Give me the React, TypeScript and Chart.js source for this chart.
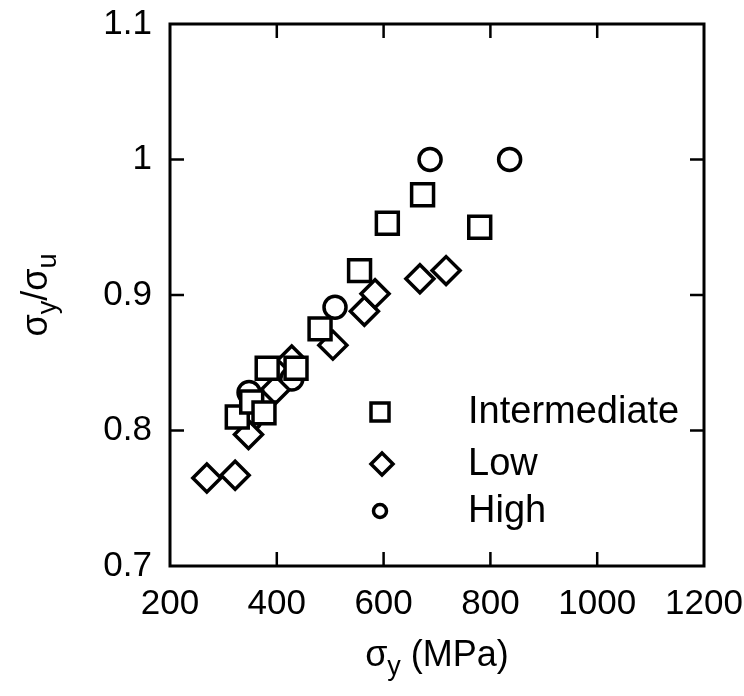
import React, { useEffect, useRef } from 'react';
import { Chart, registerables } from 'chart.js';

Chart.register(...registerables);

// Axis ticks
const X_TICKS = [200, 400, 600, 800, 1000, 1200];
const Y_TICKS = [0.7, 0.8, 0.9, 1.0, 1.1];
const Y_TICK_LABELS = ['0.7', '0.8', '0.9', '1', '1.1'];

// Series: yield strength (MPa) vs. yield/ultimate ratio
const SERIES_NAMES = ['Intermediate', 'Low', 'High'];
const INTERMEDIATE_X = [326, 353, 376, 382, 436, 481, 555, 607, 673, 780];
const INTERMEDIATE_Y = [0.81, 0.821, 0.813, 0.846, 0.846, 0.875, 0.918, 0.953, 0.974, 0.95];
const LOW_X = [269, 322, 347, 397, 428, 505, 564, 584, 668, 717];
const LOW_Y = [0.765, 0.767, 0.797, 0.83, 0.852, 0.863, 0.888, 0.901, 0.912, 0.918];
const HIGH_X = [348, 350, 428, 509, 687, 836];
const HIGH_Y = [0.828, 0.808, 0.838, 0.891, 1.0, 1.0];

const FONT = '"Liberation Sans", Arial, Helvetica, sans-serif';
const INK = '#000';

const toPoints = (xs: number[], ys: number[]) => xs.map((x, i) => ({ x, y: ys[i] }));

// Draws text with subscript parts: segments of [text, isSub]
function drawComposite(
  ctx: CanvasRenderingContext2D,
  parts: [string, boolean][],
  cx: number,
  baseline: number,
  size: number,
  subSize: number,
  subDrop: number
) {
  const widths = parts.map(([t, sub]) => {
    ctx.font = `${sub ? subSize : size}px ${FONT}`;
    return ctx.measureText(t).width;
  });
  const total = widths.reduce((a, b) => a + b, 0);
  let x = cx - total / 2;
  ctx.textAlign = 'left';
  ctx.textBaseline = 'alphabetic';
  parts.forEach(([t, sub], i) => {
    ctx.font = `${sub ? subSize : size}px ${FONT}`;
    ctx.fillText(t, x, baseline + (sub ? subDrop : 0));
    x += widths[i];
  });
}

const framePlugin = {
  id: 'frameAndLabels',
  afterDraw(chart: any) {
    const { ctx, chartArea, scales } = chart;
    const { left, right, top, bottom } = chartArea;
    ctx.save();
    ctx.strokeStyle = INK;
    ctx.fillStyle = INK;

    // inward tick marks on all four sides
    ctx.lineWidth = 2.5;
    const tl = 14;
    ctx.beginPath();
    X_TICKS.slice(1, -1).forEach((v) => {
      const px = scales.x.getPixelForValue(v);
      ctx.moveTo(px, bottom);
      ctx.lineTo(px, bottom - tl);
      ctx.moveTo(px, top);
      ctx.lineTo(px, top + tl);
    });
    Y_TICKS.slice(1, -1).forEach((v) => {
      const py = scales.y.getPixelForValue(v);
      ctx.moveTo(left, py);
      ctx.lineTo(left + tl, py);
      ctx.moveTo(right, py);
      ctx.lineTo(right - tl, py);
    });
    ctx.stroke();

    // frame
    ctx.lineWidth = 3;
    ctx.strokeRect(left, top, right - left, bottom - top);

    // x axis title: σy (MPa)
    drawComposite(ctx, [['σ', false], ['y', true], [' (MPa)', false]], (left + right) / 2, 666, 36, 27, 9);

    // y axis title: σy/σu, rotated
    ctx.save();
    ctx.translate(47, (top + bottom) / 2);
    ctx.rotate(-Math.PI / 2);
    drawComposite(ctx, [['σ', false], ['y', true], ['/σ', false], ['u', true]], 0, 0, 36, 27, 9);
    ctx.restore();

    // legend
    const rows = [412, 464, 511];
    const mx = 380;
    const tx = 468;
    ctx.lineWidth = 3.5;
    ctx.fillStyle = '#fff';
    // square
    ctx.beginPath();
    ctx.rect(mx - 9, rows[0] - 9, 18, 18);
    ctx.fill();
    ctx.stroke();
    // diamond
    ctx.beginPath();
    ctx.moveTo(mx + 2, rows[1] - 11);
    ctx.lineTo(mx + 13, rows[1]);
    ctx.lineTo(mx + 2, rows[1] + 11);
    ctx.lineTo(mx - 9, rows[1]);
    ctx.closePath();
    ctx.fill();
    ctx.stroke();
    // circle
    ctx.beginPath();
    ctx.arc(mx, rows[2], 6.5, 0, Math.PI * 2);
    ctx.fill();
    ctx.stroke();

    ctx.fillStyle = INK;
    ctx.font = `38px ${FONT}`;
    ctx.textAlign = 'left';
    ctx.textBaseline = 'middle';
    SERIES_NAMES.forEach((name, i) => ctx.fillText(name, tx, rows[i] + 1));

    ctx.restore();
  },
};

export default function App() {
  const canvasRef = useRef<HTMLCanvasElement | null>(null);

  useEffect(() => {
    const canvas = canvasRef.current;
    if (!canvas) return;
    const marker = { borderColor: INK, backgroundColor: '#fff', borderWidth: 3.5, showLine: false };
    const chart = new Chart(canvas, {
      type: 'scatter',
      data: {
        datasets: [
          { label: SERIES_NAMES[0], data: toPoints(INTERMEDIATE_X, INTERMEDIATE_Y), pointStyle: 'rect', pointRadius: 15.5, ...marker },
          { label: SERIES_NAMES[1], data: toPoints(LOW_X, LOW_Y), pointStyle: 'rectRot', pointRadius: 14, ...marker },
          { label: SERIES_NAMES[2], data: toPoints(HIGH_X, HIGH_Y), pointStyle: 'circle', pointRadius: 11, ...marker },
        ],
      },
      options: {
        responsive: false,
        devicePixelRatio: 1,
        animation: false,
        events: [],
        layout: { padding: { top: 24, right: 40, left: 0, bottom: 0 } },
        plugins: { legend: { display: false }, tooltip: { enabled: false } },
        scales: {
          x: {
            type: 'linear',
            min: 200,
            max: 1200,
            afterBuildTicks: (s: any) => {
              s.ticks = X_TICKS.map((value) => ({ value }));
            },
            afterFit: (s: any) => {
              s.height = 130;
              s.paddingLeft = 0;
              s.paddingRight = 0;
            },
            grid: { display: false, drawTicks: false },
            border: { display: false },
            ticks: {
              color: INK,
              font: { family: FONT, size: 35 },
              padding: 17,
              maxRotation: 0,
              autoSkip: false,
              callback: (v: any) => String(v),
            },
          },
          y: {
            type: 'linear',
            min: 0.7,
            max: 1.1,
            afterBuildTicks: (s: any) => {
              s.ticks = Y_TICKS.map((value) => ({ value }));
            },
            afterFit: (s: any) => {
              s.width = 170;
              s.paddingTop = 0;
              s.paddingBottom = 0;
            },
            grid: { display: false, drawTicks: false },
            border: { display: false },
            ticks: {
              color: INK,
              font: { family: FONT, size: 35 },
              padding: 18,
              autoSkip: false,
              callback: (v: any) => {
                const i = Y_TICKS.findIndex((t) => Math.abs(t - Number(v)) < 1e-6);
                return i >= 0 ? Y_TICK_LABELS[i] : '';
              },
            },
          },
        },
      },
      plugins: [framePlugin],
    });
    return () => chart.destroy();
  }, []);

  return (
    <div style={{ position: 'fixed', left: 0, top: 0, width: 744, height: 696, background: '#fff' }}>
      <canvas ref={canvasRef} width={744} height={696} style={{ display: 'block' }} />
    </div>
  );
}
